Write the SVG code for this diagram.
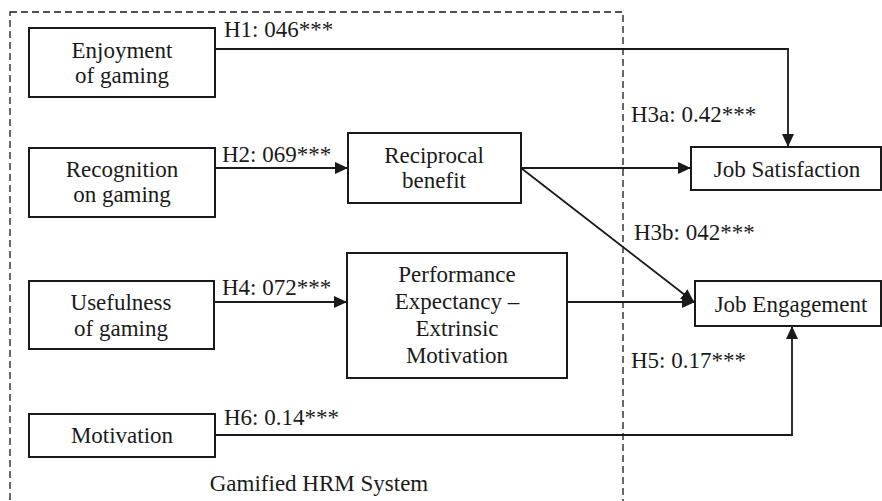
<svg xmlns="http://www.w3.org/2000/svg" width="882" height="501" viewBox="0 0 882 501">
<style>
.box{fill:#fff;stroke:#1a1a1a;stroke-width:2}
.t{font-family:"Liberation Serif","Times New Roman",serif;font-size:23px;fill:#1a1a1a}
.c{text-anchor:middle}
.ln{fill:none;stroke:#1a1a1a;stroke-width:1.8}
.dash{fill:none;stroke:#1a1a1a;stroke-width:1.3;stroke-dasharray:7 4}
</style>
<defs>
<marker id="ah" markerUnits="userSpaceOnUse" markerWidth="14" markerHeight="12" refX="13" refY="6" orient="auto">
<path d="M0,0 L13,6 L0,12 z" fill="#1a1a1a"/>
</marker>
</defs>
<rect class="dash" x="10" y="12" width="613" height="500"/>
<text class="t c" x="319" y="491">Gamified HRM System</text>
<g id="connectors">
<polyline class="ln" points="215,49 788,49 788,147" marker-end="url(#ah)"/>
<line class="ln" x1="215" y1="168" x2="348" y2="168" marker-end="url(#ah)"/>
<line class="ln" x1="521" y1="168" x2="691" y2="168" marker-end="url(#ah)"/>
<line class="ln" x1="521" y1="168" x2="694" y2="302" marker-end="url(#ah)"/>
<line class="ln" x1="214" y1="302" x2="347" y2="302" marker-end="url(#ah)"/>
<line class="ln" x1="567" y1="302" x2="695" y2="302" marker-end="url(#ah)"/>
<polyline class="ln" points="215,435 792,435 792,326" marker-end="url(#ah)"/>
<text class="t" x="224" y="37">H1: 046***</text>
<text class="t" x="222" y="162">H2: 069***</text>
<text class="t" x="631" y="122">H3a: 0.42***</text>
<text class="t" x="634" y="240">H3b: 042***</text>
<text class="t" x="222" y="295">H4: 072***</text>
<text class="t" x="631" y="368">H5: 0.17***</text>
<text class="t" x="224" y="425">H6: 0.14***</text>
</g>
<g id="enjoyment">
<rect class="box" x="29" y="28" width="186" height="69"/>
<text class="t c" x="122" y="58">Enjoyment</text>
<text class="t c" x="122" y="83">of gaming</text>
</g>
<g id="recognition">
<rect class="box" x="29" y="148" width="186" height="69"/>
<text class="t c" x="122" y="177">Recognition</text>
<text class="t c" x="122" y="202">on gaming</text>
</g>
<g id="reciprocal">
<rect class="box" x="348" y="133" width="173" height="70"/>
<text class="t c" x="434" y="163">Reciprocal</text>
<text class="t c" x="434" y="188">benefit</text>
</g>
<g id="usefulness">
<rect class="box" x="29" y="281" width="185" height="68"/>
<text class="t c" x="121" y="310">Usefulness</text>
<text class="t c" x="121" y="336">of gaming</text>
</g>
<g id="performance">
<rect class="box" x="347" y="253" width="220" height="125"/>
<text class="t c" x="457" y="282">Performance</text>
<text class="t c" x="457" y="309">Expectancy –</text>
<text class="t c" x="457" y="336">Extrinsic</text>
<text class="t c" x="457" y="363">Motivation</text>
</g>
<g id="motivation">
<rect class="box" x="29" y="414" width="186" height="43"/>
<text class="t c" x="122" y="443">Motivation</text>
</g>
<g id="satisfaction">
<rect class="box" x="691" y="147" width="190" height="43"/>
<text class="t c" x="787" y="177">Job Satisfaction</text>
</g>
<g id="engagement">
<rect class="box" x="695" y="281" width="186" height="45"/>
<text class="t c" x="791" y="312">Job Engagement</text>
</g>
</svg>
